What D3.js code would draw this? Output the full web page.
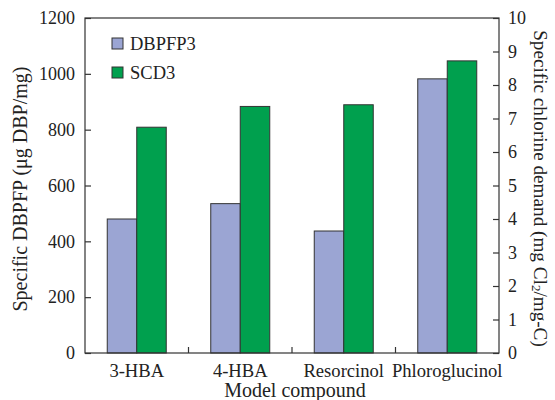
<!DOCTYPE html>
<html><head><meta charset="utf-8">
<script src="https://cdn.jsdelivr.net/npm/d3@7"></script>
<style>body{margin:0;background:#fff}text{font-family:"Liberation Serif","Times New Roman",serif;fill:#222}</style>
</head><body><svg id="c" width="555" height="400"></svg>
<script>
const categories = ["3-HBA","4-HBA","Resorcinol","Phloroglucinol"];
const dbpfp = [480, 535, 437, 982];
const scd = [6.74, 7.36, 7.41, 8.72];
const leftTicks = [0,200,400,600,800,1000,1200];
const rightTicks = [0,1,2,3,4,5,6,7,8,9,10];
const seriesNames = ["DBPFP3","SCD3"];
const colors = ["#9ba5d3","#00a04e"];

const svg = d3.select("#c");
const m = {l:85, r:499, t:18, b:353};
const x = d3.scaleBand().domain(categories).range([m.l, m.r]);
const yL = d3.scaleLinear().domain([0,1200]).range([m.b, m.t]);
const yR = d3.scaleLinear().domain([0,10]).range([m.b, m.t]);
const bw = 29.5;

const g = svg.append("g");
categories.forEach((c,i)=>{
  const cx = x(c) + x.bandwidth()/2;
  g.append("rect").attr("x", cx-bw).attr("width", bw)
    .attr("y", yL(dbpfp[i])).attr("height", yL(0)-yL(dbpfp[i]))
    .attr("fill", colors[0]).attr("stroke","#333").attr("stroke-width",1);
  g.append("rect").attr("x", cx).attr("width", bw)
    .attr("y", yR(scd[i])).attr("height", yR(0)-yR(scd[i]))
    .attr("fill", colors[1]).attr("stroke","#333").attr("stroke-width",1);
});

// frame
svg.append("rect").attr("x",m.l).attr("y",m.t).attr("width",m.r-m.l).attr("height",m.b-m.t)
  .attr("fill","none").attr("stroke","#333").attr("stroke-width",1.2);

// left axis
const la = svg.append("g").attr("transform",`translate(${m.l},0)`)
  .call(d3.axisRight(yL).tickValues(leftTicks).tickSize(6).tickFormat(d3.format("d")));
la.select(".domain").remove();
la.selectAll("line").attr("stroke","#333").attr("stroke-width",1.2);
la.selectAll("text").attr("x",-10).attr("text-anchor","end").attr("font-size",18).attr("fill","#222");

// right axis
const ra = svg.append("g").attr("transform",`translate(${m.r},0)`)
  .call(d3.axisLeft(yR).tickValues(rightTicks).tickSize(6));
ra.select(".domain").remove();
ra.selectAll("line").attr("stroke","#333").attr("stroke-width",1.2);
ra.selectAll("text").attr("x",9).attr("text-anchor","start").attr("font-size",18).attr("fill","#222");

// bottom ticks between categories
const bt = categories.slice(1).map(c=>x(c));
svg.selectAll(".bt").data(bt).enter().append("line")
  .attr("x1",d=>d).attr("x2",d=>d).attr("y1",m.b).attr("y2",m.b-6)
  .attr("stroke","#333").attr("stroke-width",1.2);

// category labels
svg.selectAll(".cl").data(categories).enter().append("text")
  .attr("x",d=>x(d)+x.bandwidth()/2).attr("y",377).attr("text-anchor","middle")
  .attr("font-size",18.6).text(d=>d);

// axis titles
svg.append("text").attr("x",295).attr("y",397).attr("text-anchor","middle").attr("font-size",20).text("Model compound");
svg.append("text").attr("transform","translate(20,189) rotate(-90)").attr("text-anchor","middle")
  .attr("dominant-baseline","central").attr("font-size",20).text("Specific DBPFP (μg DBP/mg)");
const rt = svg.append("text").attr("transform","translate(541,188.5) rotate(90)").attr("text-anchor","middle")
  .attr("dominant-baseline","central").attr("font-size",19.2);
rt.append("tspan").text("Specific chlorine demand (mg Cl");
rt.append("tspan").attr("font-size",13).attr("dy",4).text("2");
rt.append("tspan").attr("dy",-4).text("/mg-C)");

// legend
seriesNames.forEach((s,i)=>{
  const yy = 38 + i*29;
  svg.append("rect").attr("x",112).attr("y",yy).attr("width",11).attr("height",11)
    .attr("fill",colors[i]).attr("stroke","#333").attr("stroke-width",1);
  svg.append("text").attr("x",130).attr("y",yy+12).attr("font-size",18.5).text(s);
});
</script></body></html>
